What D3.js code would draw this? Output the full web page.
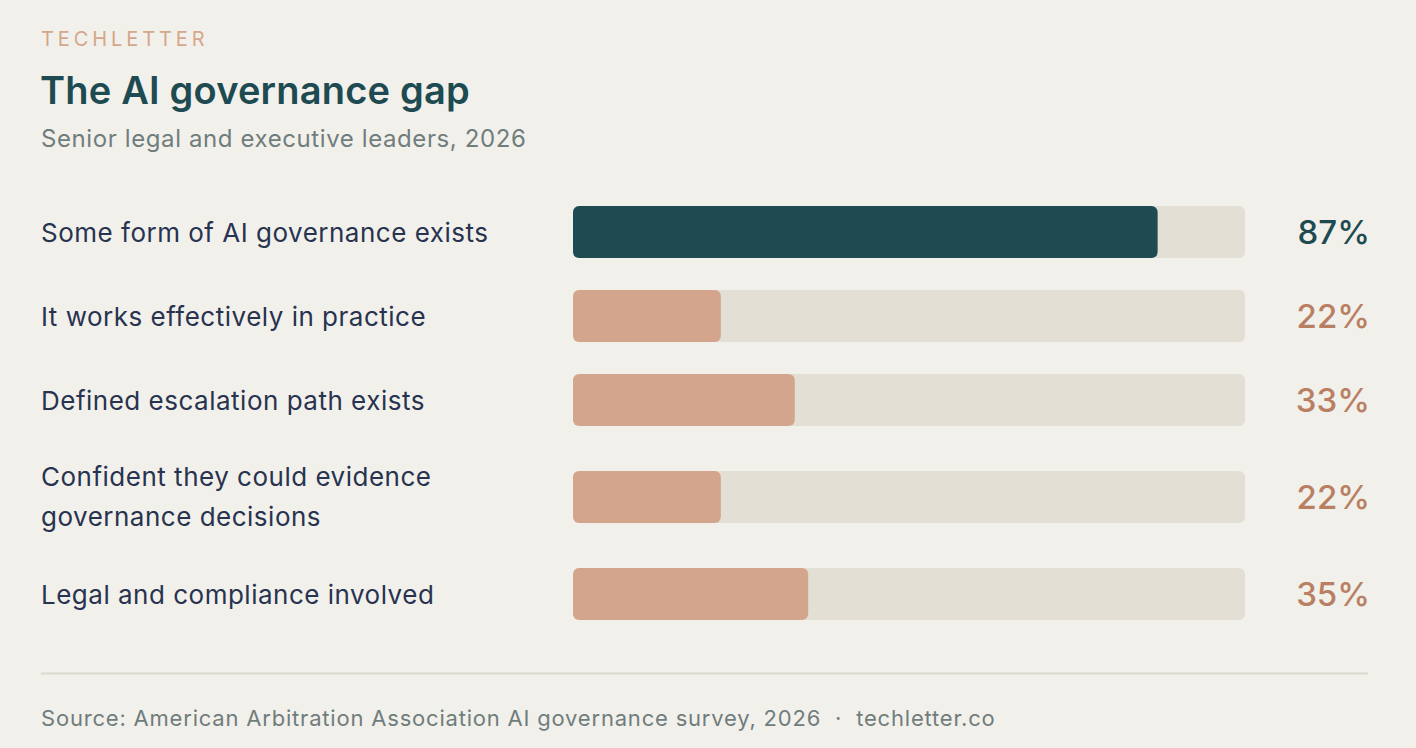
<!DOCTYPE html>
<html>
<head>
<meta charset="utf-8">
<script src="https://cdn.jsdelivr.net/npm/d3@7"></script>
<style>
  html, body { margin: 0; padding: 0; background: #f2f0eb; }
  svg { display: block; font-family: Inter, "Noto Sans", sans-serif; }
</style>
</head>
<body>
<div id="graf"></div>
<script>
// datos
const labels = [
    ['Some form of AI governance exists'],
    ['It works effectively in practice'],
    ['Defined escalation path exists'],
    ['Confident they could evidence', 'governance decisions'],
    ['Legal and compliance involved'],
]
const values = [87, 22, 33, 22, 35]
const highlight = [true, false, false, false, false]

const ancho = 1416
const alto = 748

const svg = d3.select('#graf').append('svg')
    .attr('width', ancho)
    .attr('height', alto)

svg.append('rect').attr('width', ancho).attr('height', alto).attr('fill', '#f2f0eb')

// cabecera
svg.append('text')
    .attr('x', 41).attr('y', 46)
    .attr('fill', '#d4a78c')
    .attr('font-size', 20)
    .attr('letter-spacing', 3.9)
    .text('TECHLETTER')

svg.append('text')
    .attr('x', 40).attr('y', 104)
    .attr('fill', '#1e4a52')
    .attr('font-size', 38)
    .attr('font-weight', 600)
    .attr('letter-spacing', 0.2)
    .text('The AI governance gap')

svg.append('text')
    .attr('x', 41).attr('y', 147)
    .attr('fill', '#707d7d')
    .attr('font-size', 24)
    .attr('letter-spacing', 0.6)
    .text('Senior legal and executive leaders, 2026')

// filas: altura segun lineas de la etiqueta
const barH = 52
const rowLine = 39
const textLine = 40
const gap = 32
let yTop = 206
const filas = labels.map((l, i) => {
    const h = Math.max(barH, l.length * rowLine)
    const f = { lines: l, value: values[i], hi: highlight[i], cy: yTop + h / 2 }
    yTop += h + gap
    return f
})

const x = d3.scaleLinear().domain([0, 100]).range([573, 1245])

const g = svg.selectAll('g.fila')
    .data(filas)
    .enter()
    .append('g')
    .attr('class', 'fila')
    .attr('transform', d => `translate(0,${d.cy})`)

g.append('rect')
    .attr('x', x(0))
    .attr('y', -barH / 2)
    .attr('width', x(100) - x(0))
    .attr('height', barH)
    .attr('rx', 6)
    .attr('fill', '#e3dfd5')

g.append('rect')
    .attr('x', x(0))
    .attr('y', -barH / 2)
    .attr('width', d => x(d.value) - x(0))
    .attr('height', barH)
    .attr('rx', 6)
    .attr('fill', d => d.hi ? '#1e4a52' : '#d3a58c')

g.append('text')
    .attr('x', 41)
    .attr('fill', '#28334f')
    .attr('font-size', 26)
    .attr('letter-spacing', 0.5)
    .selectAll('tspan')
    .data(d => d.lines.map((t, j) => ({ t, j, n: d.lines.length })))
    .enter()
    .append('tspan')
    .attr('x', 41)
    .attr('y', d => (d.j - (d.n - 1) / 2) * textLine + (d.n > 1 ? 9 : 10))
    .text(d => d.t)

g.append('text')
    .attr('x', 1370)
    .attr('y', 12)
    .attr('text-anchor', 'end')
    .attr('font-size', 33)
    .attr('font-weight', 500)
    .attr('fill', d => d.hi ? '#1e4a52' : '#b97f63')
    .text(d => d.value + '%')

// pie
svg.append('line')
    .attr('x1', 41).attr('x2', 1368)
    .attr('y1', 673.5).attr('y2', 673.5)
    .attr('stroke', '#dcd8cc')
    .attr('stroke-width', 2)

svg.append('text')
    .attr('x', 41).attr('y', 726)
    .attr('fill', '#707d7d')
    .attr('font-size', 22)
    .attr('letter-spacing', 0.8)
    .attr('xml:space', 'preserve')
    .text('Source: American Arbitration Association AI governance survey, 2026  ·  techletter.co')
</script>
</body>
</html>
